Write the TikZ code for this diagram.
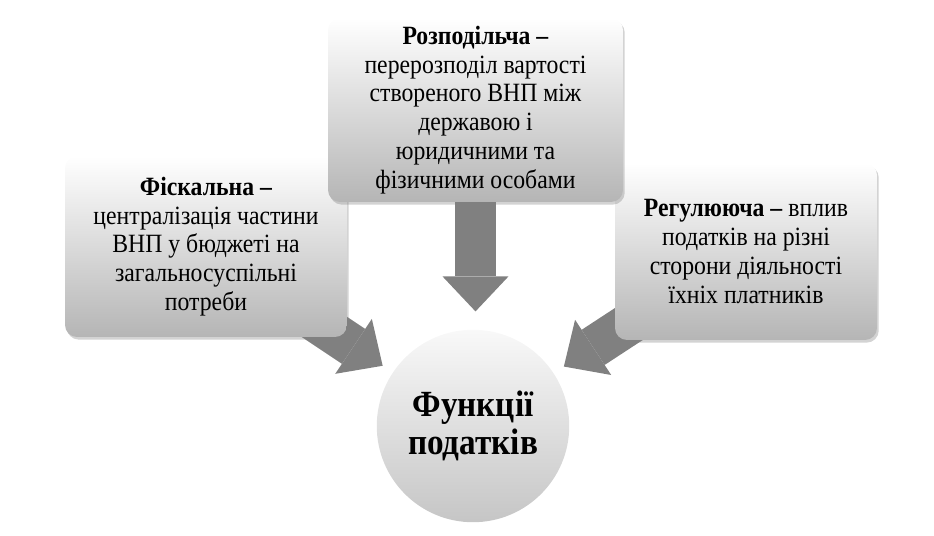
\documentclass[tikz,border=0pt]{standalone}
\usepackage{fontspec}
\setmainfont{Liberation Serif}[FakeStretch=0.9]
\usetikzlibrary{arrows.meta,shadows,backgrounds}

\tikzset{
  funcbox/.style={rounded corners=0.24cm, top color=white, bottom color=gray!58,
    drop shadow={shadow xshift=1pt, shadow yshift=-1.5pt, opacity=0.35},
    align=center, inner sep=0pt, font=\fontsize{15}{16.4}\selectfont},
  funccircle/.style={circle, top color=white!95!gray, bottom color=gray!45,
    minimum size=3.85cm, inner sep=0pt, align=center,
    font=\fontsize{21}{22}\selectfont\bfseries},
  bigarrow/.style={draw=gray, line width=0.84cm,
    -{Triangle[length=0.7cm, width=1.32cm, line width=0pt]}}
}

\begin{document}
\begin{tikzpicture}[x=0.02cm, y=-0.02cm]
    \useasboundingbox (0,0) rectangle (934,536);

    \node[funccircle] (fn) at (473,426) {Функції\\податків};

    \node[funcbox, minimum width=5.64cm, minimum height=3.62cm] (fisc) at (206,246.5)
        {\textbf{Фіскальна –}\\централізація частини\\ВНП у бюджеті на\\загальносуспільні\\потреби};
    \node[funcbox, minimum width=5.24cm, minimum height=3.54cm] (reg) at (746,251.5)
        {\textbf{Регулююча –} вплив\\податків на різні\\сторони діяльності\\їхніх платників};
    \node[funcbox, minimum width=5.9cm, minimum height=3.68cm] (distr) at (475.5,110)
        {\textbf{Розподільча –}\\перерозподіл вартості\\створеного ВНП між\\державою і\\юридичними та\\фізичними особами};

% tails of the side arrows, hidden under the boxes
    \coordinate (fisctail) at (290,304);
    \coordinate (regtail) at (661,303);

% block arrows behind the boxes
    \begin{scope}[on background layer]
        \draw[bigarrow, shorten >=0.24cm] (fisctail) -- (fn);
        \draw[bigarrow, shorten >=0.24cm] (regtail) -- (fn);
        \draw[bigarrow, shorten >=0.36cm] (distr.south) -- (distr.south |- fn.north);
    \end{scope}
\end{tikzpicture}
\end{document}
